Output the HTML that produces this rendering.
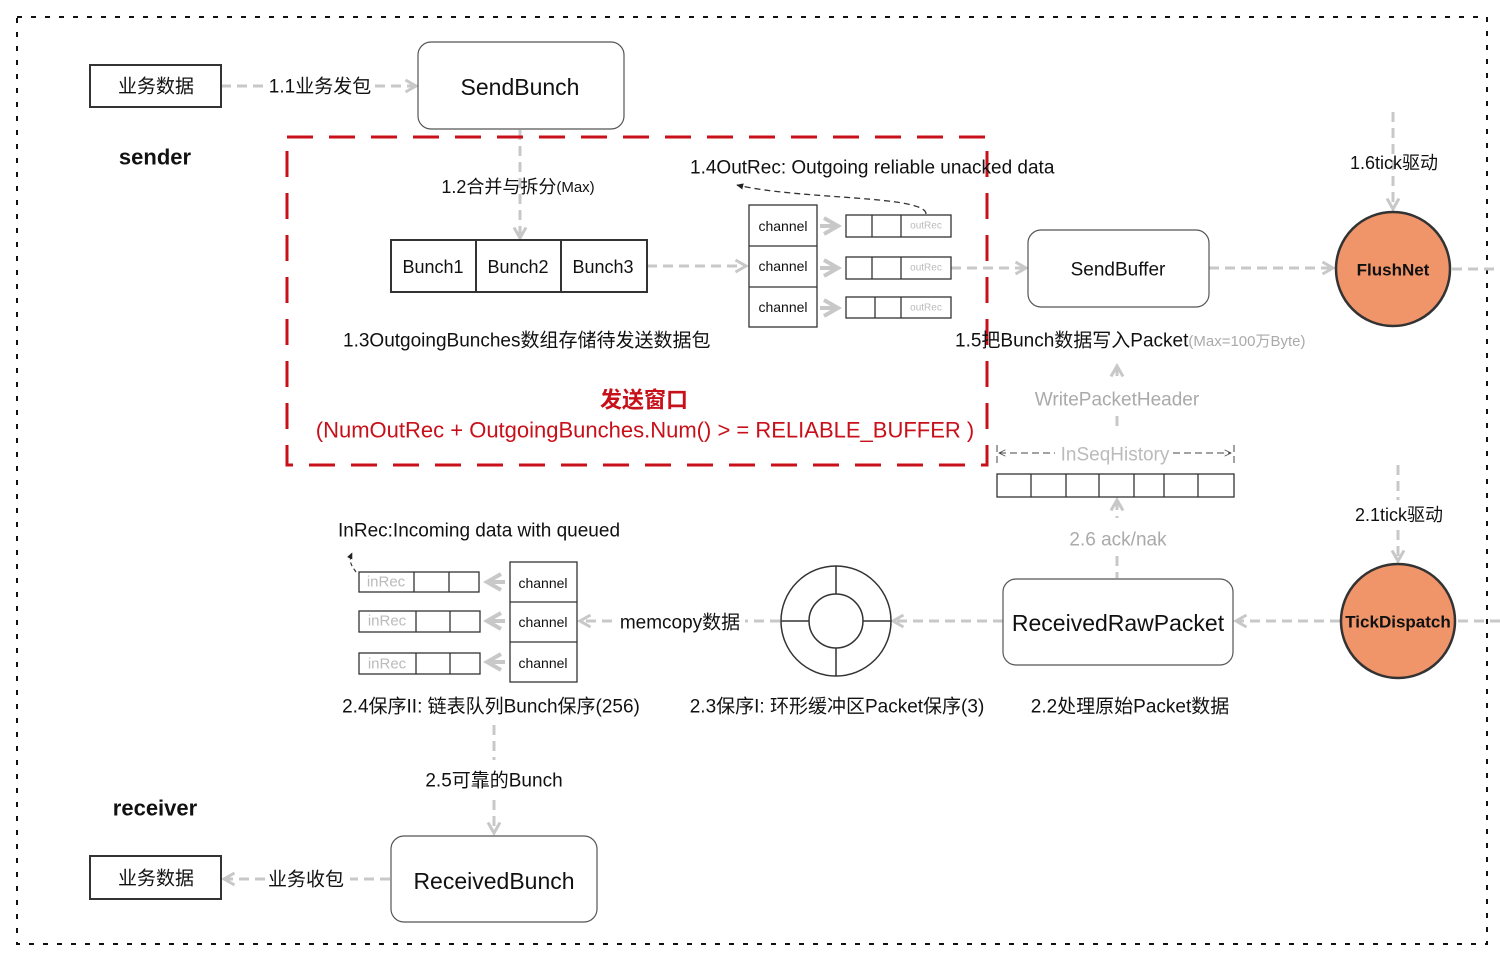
<!DOCTYPE html>
<html><head><meta charset="utf-8"><style>
html,body{margin:0;padding:0;background:#fff;}
svg{display:block;}
text{font-family:"Liberation Sans","Noto Sans CJK SC",sans-serif;}
</style></head><body>
<svg width="1500" height="959" viewBox="0 0 1500 959" xmlns="http://www.w3.org/2000/svg">
<defs>
<marker id="ga" viewBox="0 0 10 10" refX="8" refY="5" markerWidth="5" markerHeight="5" orient="auto-start-reverse">
<path d="M1,1 L8,5 L1,9" fill="none" stroke="#c8c8c8" stroke-width="2"/></marker>
<marker id="ba" viewBox="0 0 10 10" refX="8" refY="5" markerWidth="6" markerHeight="6" orient="auto-start-reverse">
<path d="M0,1 L9,5 L0,9z" fill="#222"/></marker>
<marker id="ta" viewBox="0 0 10 10" refX="9" refY="5" markerWidth="8" markerHeight="8" orient="auto-start-reverse">
<path d="M1,1 L9,5 L1,9" fill="none" stroke="#444" stroke-width="1"/></marker>
</defs>
<rect x="17" y="17" width="1470" height="927" fill="none" stroke="#111" stroke-width="2" stroke-dasharray="5 9"/>

<g fill="none" stroke="#c8c8c8" stroke-width="3" stroke-dasharray="10 6">
<line x1="221" y1="86" x2="265" y2="86"/>
<line x1="375" y1="86" x2="416" y2="86" marker-end="url(#ga)"/>
<line x1="520" y1="130" x2="520" y2="238" marker-end="url(#ga)"/>
<line x1="647" y1="266" x2="746" y2="266" marker-end="url(#ga)"/>
<line x1="951" y1="268" x2="1026" y2="268" marker-end="url(#ga)"/>
<line x1="1209" y1="268" x2="1333" y2="268" marker-end="url(#ga)"/>
<line x1="1393" y1="112" x2="1393" y2="209" marker-end="url(#ga)"/>
<line x1="1452" y1="269" x2="1500" y2="269"/>
<line x1="1117" y1="366" x2="1117" y2="382" marker-start="url(#ga)"/>
<line x1="1117" y1="416" x2="1117" y2="432"/>
<line x1="1117" y1="500" x2="1117" y2="518" marker-start="url(#ga)"/>
<line x1="1117" y1="556" x2="1117" y2="578"/>
<line x1="1398" y1="465" x2="1398" y2="500"/>
<line x1="1398" y1="530" x2="1398" y2="561" marker-end="url(#ga)"/>
<line x1="1500" y1="621" x2="1457" y2="621"/>
<line x1="1340" y1="621" x2="1236" y2="621" marker-end="url(#ga)"/>
<line x1="1003" y1="621" x2="893" y2="621" marker-end="url(#ga)"/>
<line x1="780" y1="621" x2="745" y2="621"/>
<line x1="612" y1="621" x2="580" y2="621" marker-end="url(#ga)"/>
<line x1="494" y1="725" x2="494" y2="760"/>
<line x1="494" y1="800" x2="494" y2="833" marker-end="url(#ga)"/>
<line x1="390" y1="879" x2="350" y2="879"/>
<line x1="265" y1="879" x2="224" y2="879" marker-end="url(#ga)"/>
</g>
<g fill="none" stroke="#c8c8c8" stroke-width="4">
<line x1="820" y1="226" x2="838" y2="226" marker-end="url(#ga)"/>
<line x1="820" y1="268" x2="838" y2="268" marker-end="url(#ga)"/>
<line x1="820" y1="308" x2="838" y2="308" marker-end="url(#ga)"/>
<line x1="505" y1="582" x2="487" y2="582" marker-end="url(#ga)"/>
<line x1="505" y1="621" x2="487" y2="621" marker-end="url(#ga)"/>
<line x1="505" y1="662" x2="487" y2="662" marker-end="url(#ga)"/>
</g>

<rect x="287" y="137" width="700" height="328" fill="none" stroke="#c8101a" stroke-width="3" stroke-dasharray="26 16"/>

<g fill="#fff" stroke="#333" stroke-width="2">
<rect x="90" y="65" width="131" height="42"/>
<rect x="418" y="42" width="206" height="87" rx="13" stroke="#555" stroke-width="1.2"/>
<rect x="391" y="240" width="256" height="52"/>
<rect x="1028" y="230" width="181" height="77" rx="13" stroke="#555" stroke-width="1.2"/>
<rect x="1003" y="579" width="230" height="86" rx="13" stroke="#555" stroke-width="1.2"/>
<rect x="90" y="856" width="131" height="43"/>
<rect x="391" y="836" width="206" height="86" rx="13" stroke="#555" stroke-width="1.2"/>
</g>
<g stroke="#333" stroke-width="2"><line x1="476" y1="240" x2="476" y2="292"/><line x1="561" y1="240" x2="561" y2="292"/></g>

<g fill="#fff" stroke="#333" stroke-width="1.3">
<rect x="749" y="205" width="68" height="122"/><line x1="749" y1="246" x2="817" y2="246"/><line x1="749" y1="287" x2="817" y2="287"/>
<rect x="846" y="215" width="105" height="22"/><line x1="872" y1="215" x2="872" y2="237"/><line x1="901" y1="215" x2="901" y2="237"/>
<rect x="846" y="257" width="105" height="22"/><line x1="872" y1="257" x2="872" y2="279"/><line x1="901" y1="257" x2="901" y2="279"/>
<rect x="846" y="297" width="105" height="21"/><line x1="875" y1="297" x2="875" y2="318"/><line x1="901" y1="297" x2="901" y2="318"/>
<rect x="510" y="562" width="67" height="120"/><line x1="510" y1="602" x2="577" y2="602"/><line x1="510" y1="642" x2="577" y2="642"/>
<rect x="359" y="572" width="120" height="20"/><line x1="414" y1="572" x2="414" y2="592"/><line x1="449" y1="572" x2="449" y2="592"/>
<rect x="359" y="611" width="121" height="21"/><line x1="416" y1="611" x2="416" y2="632"/><line x1="450" y1="611" x2="450" y2="632"/>
<rect x="359" y="653" width="121" height="21"/><line x1="416" y1="653" x2="416" y2="674"/><line x1="450" y1="653" x2="450" y2="674"/>
<rect x="997" y="474" width="237" height="23"/>
<line x1="1031" y1="474" x2="1031" y2="497"/><line x1="1066" y1="474" x2="1066" y2="497"/><line x1="1099" y1="474" x2="1099" y2="497"/><line x1="1134" y1="474" x2="1134" y2="497"/><line x1="1164" y1="474" x2="1164" y2="497"/><line x1="1198" y1="474" x2="1198" y2="497"/>
</g>
<path d="M926,214 C926,195 800,200 737,185" fill="none" stroke="#333" stroke-width="1.3" stroke-dasharray="6 4" marker-end="url(#ba)"/>
<path d="M356,572 C352,566 348,562 352,553" fill="none" stroke="#333" stroke-width="1.2" stroke-dasharray="4 3" marker-end="url(#ba)"/>
<g stroke="#444" stroke-width="1" stroke-dasharray="7 4">
<line x1="999" y1="453" x2="1055" y2="453" marker-start="url(#ta)"/>
<line x1="1173" y1="453" x2="1231" y2="453" marker-end="url(#ta)"/>
<line x1="997" y1="445" x2="997" y2="466"/><line x1="1234" y1="445" x2="1234" y2="466"/>
</g>

<circle cx="1393" cy="269" r="57" fill="#f0956a" stroke="#333" stroke-width="2.5"/>
<circle cx="1398" cy="621" r="57" fill="#f0956a" stroke="#333" stroke-width="2.5"/>
<g fill="none" stroke="#333" stroke-width="1.5">
<circle cx="836" cy="621" r="55"/><circle cx="836" cy="621" r="27"/>
<line x1="836" y1="566" x2="836" y2="594"/><line x1="836" y1="648" x2="836" y2="676"/>
<line x1="781" y1="621" x2="809" y2="621"/><line x1="863" y1="621" x2="891" y2="621"/>
</g>

<g fill="#111" font-size="19" text-anchor="middle" dominant-baseline="central">
<text x="156" y="87">业务数据</text>
<text x="320" y="87">1.1业务发包</text>
<text x="520" y="87" font-size="23">SendBunch</text>
<text x="155" y="157" font-size="22" font-weight="bold">sender</text>
<text x="518" y="187" font-size="18">1.2合并与拆分<tspan font-size="15">(Max)</tspan></text>
<text x="433" y="267" font-size="18">Bunch1</text>
<text x="518" y="267" font-size="18">Bunch2</text>
<text x="603" y="267" font-size="18">Bunch3</text>
<text x="690" y="168" text-anchor="start">1.4OutRec: Outgoing reliable unacked data</text>
<text x="783" y="226" font-size="14">channel</text>
<text x="783" y="266" font-size="14">channel</text>
<text x="783" y="307" font-size="14">channel</text>
<text x="926" y="226" font-size="10" fill="#bbb">outRec</text>
<text x="926" y="268" font-size="10" fill="#bbb">outRec</text>
<text x="926" y="308" font-size="10" fill="#bbb">outRec</text>
<text x="1118" y="270">SendBuffer</text>
<text x="1393" y="270" font-size="17" font-weight="bold">FlushNet</text>
<text x="1394" y="163" font-size="18">1.6tick驱动</text>
<text x="343" y="341" text-anchor="start">1.3OutgoingBunches数组存储待发送数据包</text>
<text x="955" y="341" text-anchor="start">1.5把Bunch数据写入Packet<tspan font-size="15" fill="#aaa">(Max=100万Byte)</tspan></text>
<text x="644" y="400" font-size="22" font-weight="bold" fill="#c8101a">发送窗口</text>
<text x="645" y="430" font-size="22" fill="#c8101a">(NumOutRec + OutgoingBunches.Num() > = RELIABLE_BUFFER )</text>
<text x="1117" y="400" fill="#aaa">WritePacketHeader</text>
<text x="1115" y="455" fill="#bbb">InSeqHistory</text>
<text x="1118" y="540" fill="#aaa">2.6 ack/nak</text>
<text x="1399" y="515" font-size="18">2.1tick驱动</text>
<text x="1118" y="623" font-size="23">ReceivedRawPacket</text>
<text x="1398" y="622" font-size="17" font-weight="bold">TickDispatch</text>
<text x="680" y="623">memcopy数据</text>
<text x="338" y="531" text-anchor="start">InRec:Incoming data with queued</text>
<text x="543" y="583" font-size="14">channel</text>
<text x="543" y="622" font-size="14">channel</text>
<text x="543" y="663" font-size="14">channel</text>
<text x="386" y="582" font-size="15" fill="#bbb">inRec</text>
<text x="387" y="621" font-size="15" fill="#bbb">inRec</text>
<text x="387" y="664" font-size="15" fill="#bbb">inRec</text>
<text x="491" y="707">2.4保序II: 链表队列Bunch保序(256)</text>
<text x="837" y="707">2.3保序I: 环形缓冲区Packet保序(3)</text>
<text x="1130" y="707">2.2处理原始Packet数据</text>
<text x="494" y="781">2.5可靠的Bunch</text>
<text x="155" y="808" font-size="22" font-weight="bold">receiver</text>
<text x="156" y="879">业务数据</text>
<text x="306" y="880">业务收包</text>
<text x="494" y="881" font-size="23">ReceivedBunch</text>
</g>
</svg>
</body></html>
